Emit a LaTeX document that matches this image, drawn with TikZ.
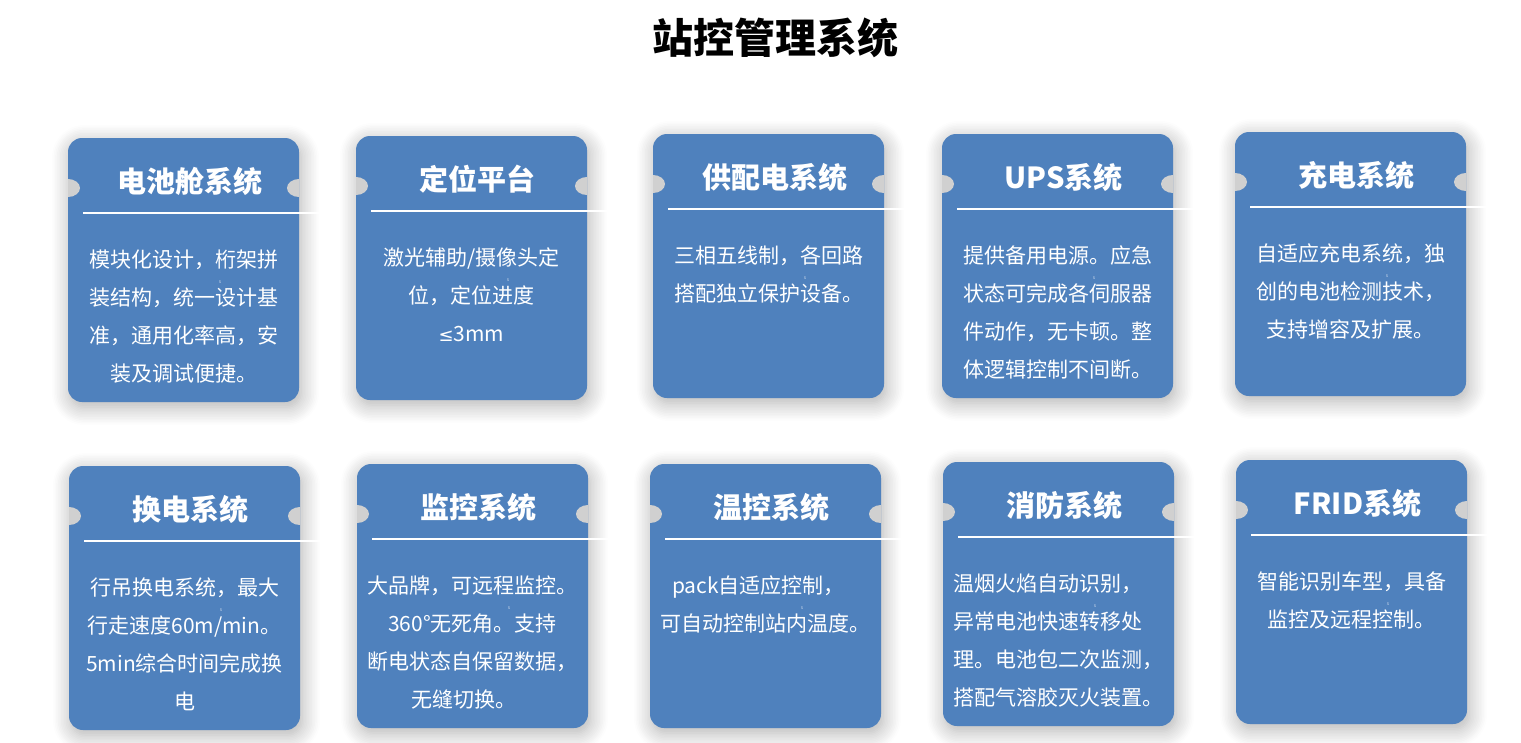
\documentclass[tikz,border=0pt]{standalone}
\usepackage{fontspec}
\setmainfont{Noto Sans CJK SC}
\newfontfamily\symfont{DejaVu Sans}
\usetikzlibrary{shadows.blur}
\definecolor{cardblue}{RGB}{79,129,189}
\definecolor{notchgrey}{RGB}{208,208,208}
\definecolor{markcol}{RGB}{200,214,234}
\tikzset{
  card/.style={fill=cardblue, rounded corners=14pt, minimum width=231pt, minimum height=264pt, inner sep=0pt,
    blur shadow={shadow xshift=2pt, shadow yshift=-5pt, shadow blur radius=18pt, shadow opacity=32, shadow blur steps=12}},
  notchfill/.style={fill=notchgrey},
  ttl/.style={text=white, font=\bfseries\fontsize{29}{34}\selectfont, anchor=base, inner sep=0pt},
  sepline/.style={draw=white, line width=2.4pt},
  bodytext/.style={text=white, font=\fontsize{21}{38}\selectfont, anchor=base, inner sep=0pt},
  wmark/.style={text=markcol, font=\fontsize{5}{6}\selectfont, inner sep=0pt},
  maintitle/.style={text=black, font=\bfseries\fontsize{41}{48}\selectfont, anchor=base, inner sep=0pt}
}
% #1 name, #2 left, #3 top, #4 title, #5 body, #6 align, #7 number of body lines
\newcommand\mkcard[7]{%
  \node[card] (#1) at (#2+115.5, #3+132) {};
  \fill[notchfill] (#2, #3+59) arc[start angle=90, end angle=-90, x radius=12, y radius=9] -- cycle;
  \fill[notchfill] (#2+231, #3+59) arc[start angle=90, end angle=270, x radius=12, y radius=9] -- cycle;
  \node[ttl] (#1-t) at (#2+121.5, #3+54) {#4};
  \coordinate (#1-a) at (#2+15, #3+75);
  \coordinate (#1-b) at (#2+262, #3+75);
  \draw[sepline] (#1-a) -- (#1-b);
  \node[bodytext, #6] (#1-x) at (#2+115.5, #3+129.5+38*#7-38) {#5};
  \node[wmark] (#1-s) at (#2+152, #3+144) {s};
}
\begin{document}
\begin{tikzpicture}[x=1pt, y=-1pt]
\useasboundingbox (0,0) rectangle (1521,742);
\node[maintitle] (title) at (775, 53) {站控管理系统};
\mkcard{a1}{68}{138}{电池舱系统}{模块化设计，桁架拼\\装结构，统一设计基\\准，通用化率高，安\\装及调试便捷。}{align=center}{4}
\mkcard{a2}{356}{136}{定位平台}{激光辅助/摄像头定\\位，定位进度\\{\symfont\fontsize{18}{38}\selectfont ≤}3mm}{align=center}{3}
\mkcard{a3}{653}{134}{供配电系统}{三相五线制，各回路\\搭配独立保护设备。}{align=center}{2}
\mkcard{a4}{942}{134}{UPS系统}{提供备用电源。应急\\状态可完成各伺服器\\件动作，无卡顿。整\\体逻辑控制不间断。}{align=center}{4}
\mkcard{a5}{1235}{132}{充电系统}{自适应充电系统，独\\创的电池检测技术，\\支持增容及扩展。}{align=center}{3}
\mkcard{b1}{69}{466}{换电系统}{行吊换电系统，最大\\行走速度60m/min。\\5min综合时间完成换\\电}{align=center}{4}
\mkcard{b2}{357}{464}{监控系统}{大品牌，可远程监控。\\360°无死角。支持\\断电状态自保留数据，\\无缝切换。\hspace*{18pt}}{align=center}{4}
\mkcard{b3}{650}{464}{温控系统}{pack自适应控制，\hspace*{14pt}\\可自动控制站内温度。}{align=center}{2}
\mkcard{b4}{943}{462}{消防系统}{温烟火焰自动识别，\\异常电池快速转移处\\理。电池包二次监测，\\搭配气溶胶灭火装置。}{align=left}{4}
\mkcard{b5}{1236}{460}{FRID系统}{智能识别车型，具备\\监控及远程控制。}{align=center}{2}
\end{tikzpicture}
\end{document}
